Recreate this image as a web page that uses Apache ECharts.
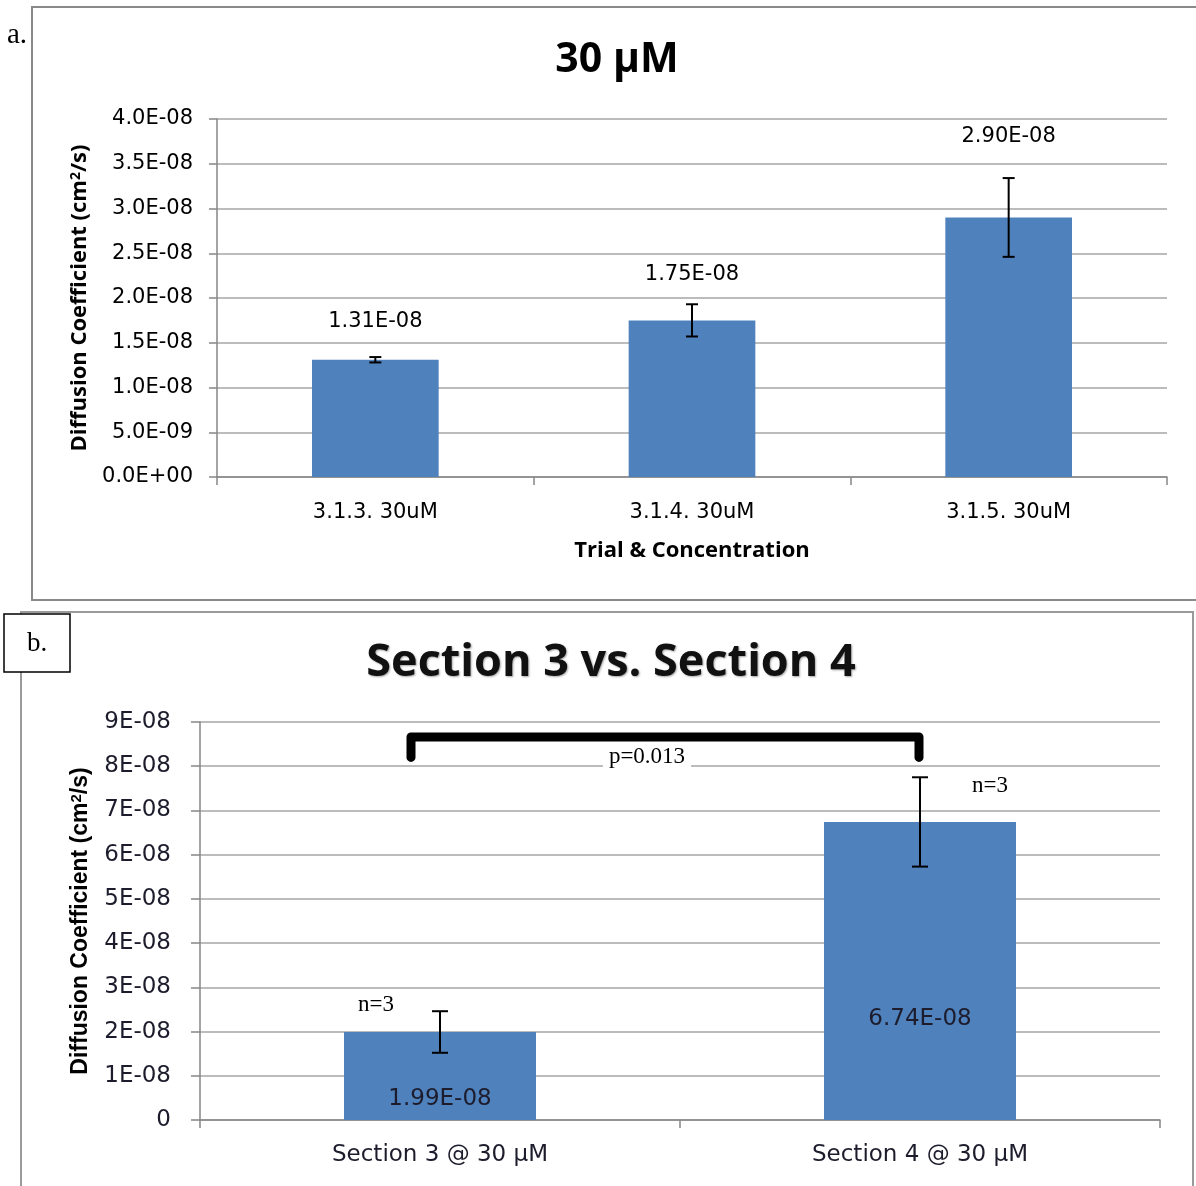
<!DOCTYPE html>
<html>
<head>
<meta charset="utf-8">
<script src="https://cdn.jsdelivr.net/npm/echarts@6/dist/echarts.min.js"></script>
<style>
  html, body { margin: 0; padding: 0; background: #fff; }
  #chart { width: 1196px; height: 1186px; }
</style>
</head>
<body>
<div id="chart"></div>
<script>
// Panel a: diffusion coefficient per trial at 30 µM
const trialCategories = ['3.1.3. 30uM', '3.1.4. 30uM', '3.1.5. 30uM'];
const trialMeans = [1.31e-8, 1.75e-8, 2.90e-8];
const trialErrors = [0.03e-8, 0.18e-8, 0.44e-8];
const trialAxisMax = 4e-8;
const trialAxisStep = 0.5e-8;

// Panel b: section comparison at 30 µM
const sectionCategories = ['Section 3 @ 30 µM', 'Section 4 @ 30 µM'];
const sectionMeans = [1.99e-8, 6.74e-8];
const sectionErrors = [0.47e-8, 1.01e-8];
const sectionCounts = [3, 3];
const sectionAxisMax = 9e-8;
const sectionAxisStep = 1e-8;
const pValueText = 'p=0.013';

const BAR = '#4f81bd';
const GRID_LINE = '#a6a6a6';
const AXIS_LINE = '#868686';

// Excel-style scientific notation: 1.31E-08, 0.0E+00
function sci(v, digits) {
  if (Math.abs(v) < 1e-20) return (0).toFixed(digits) + 'E+00';
  const s = v.toExponential(digits).toUpperCase();
  return s.replace(/E([+-])(\d+)$/, (m, sign, exp) => 'E' + sign + exp.padStart(2, '0'));
}

// I-beam error bar: value = [categoryIndex, low, high]
function errorBar(cap, width) {
  return function (params, api) {
    const x = api.value(0);
    const lo = api.coord([x, api.value(1)]);
    const hi = api.coord([x, api.value(2)]);
    const st = { stroke: '#000', lineWidth: width };
    return {
      type: 'group',
      children: [
        { type: 'line', shape: { x1: hi[0], y1: hi[1], x2: lo[0], y2: lo[1] }, style: st },
        { type: 'line', shape: { x1: hi[0] - cap, y1: hi[1], x2: hi[0] + cap, y2: hi[1] }, style: st },
        { type: 'line', shape: { x1: lo[0] - cap, y1: lo[1], x2: lo[0] + cap, y2: lo[1] }, style: st }
      ]
    };
  };
}

const chart = echarts.init(document.getElementById('chart'), null, { renderer: 'canvas' });

function supRich(size) {
  return { sup: { fontSize: size, verticalAlign: 'top', lineHeight: size, fontWeight: 'bold' } };
}

const option = {
  animation: false,
  backgroundColor: '#fff',
  title: [
    {
      text: '30 µM', left: 612, top: 35, textAlign: 'center',
      textStyle: { fontFamily: 'Open Sans', fontSize: 41, fontWeight: 'bold', color: '#000' }
    },
    {
      text: 'Section 3 vs. Section 4', left: 606, top: 636, textAlign: 'center',
      textStyle: {
        fontFamily: 'Open Sans', fontSize: 45, fontWeight: 'bold', color: '#111',
        textShadowColor: 'rgba(0,0,0,0.35)', textShadowBlur: 2, textShadowOffsetX: 1, textShadowOffsetY: 1
      }
    }
  ],
  grid: [
    { left: 217, top: 119, width: 950, height: 358 },
    { left: 200, top: 722, width: 960, height: 398 }
  ],
  xAxis: [
    {
      gridIndex: 0, type: 'category', data: trialCategories,
      axisLine: { lineStyle: { color: AXIS_LINE, width: 1.5 } },
      axisTick: { show: true, length: 8, lineStyle: { color: AXIS_LINE, width: 1.5 } },
      axisLabel: { margin: 25, fontFamily: 'DejaVu Sans', fontSize: 21, color: '#000' },
      name: 'Trial & Concentration', nameLocation: 'middle', nameGap: 63,
      nameTextStyle: { fontFamily: 'Open Sans', fontSize: 22, fontWeight: 'bold', color: '#000' }
    },
    {
      gridIndex: 1, type: 'category', data: sectionCategories,
      axisLine: { lineStyle: { color: AXIS_LINE, width: 1.5 } },
      axisTick: { show: true, length: 8, lineStyle: { color: AXIS_LINE, width: 1.5 } },
      axisLabel: { margin: 24, fontFamily: 'DejaVu Sans', fontSize: 23, color: '#1c1c2c' }
    }
  ],
  yAxis: [
    {
      gridIndex: 0, type: 'value', min: 0, max: trialAxisMax, interval: trialAxisStep,
      axisLine: { show: true, lineStyle: { color: AXIS_LINE, width: 1.5 } },
      axisTick: { show: true, length: 8, lineStyle: { color: AXIS_LINE, width: 1.5 } },
      splitLine: { lineStyle: { color: GRID_LINE, width: 1.5 } },
      axisLabel: {
        margin: 24, fontFamily: 'DejaVu Sans', fontSize: 21, color: '#000',
        formatter: v => sci(v, 1)
      },
      name: 'Diffusion Coefficient (cm{sup|2}/s)', nameLocation: 'middle', nameGap: 124,
      nameTextStyle: { fontFamily: 'Open Sans', fontSize: 22, fontWeight: 'bold', color: '#000', rich: supRich(14) }
    },
    {
      gridIndex: 1, type: 'value', min: 0, max: sectionAxisMax, interval: sectionAxisStep,
      axisLine: { show: true, lineStyle: { color: AXIS_LINE, width: 1.5 } },
      axisTick: { show: true, length: 9, lineStyle: { color: AXIS_LINE, width: 1.5 } },
      splitLine: { lineStyle: { color: GRID_LINE, width: 1.5 } },
      axisLabel: {
        margin: 29, fontFamily: 'DejaVu Sans', fontSize: 23, color: '#1c1c2c',
        formatter: v => (Math.abs(v) < 1e-20 ? '0' : sci(v, 0))
      },
      name: 'Diffusion Coefficient (cm{sup|2}/s)', nameLocation: 'middle', nameGap: 108,
      nameTextStyle: { fontFamily: 'Liberation Sans', fontSize: 23, fontWeight: 'bold', color: '#000', rich: supRich(15) }
    }
  ],
  series: [
    {
      type: 'bar', xAxisIndex: 0, yAxisIndex: 0, barWidth: '40%',
      itemStyle: { color: BAR },
      data: trialMeans.map((v, i) => ({ value: v, label: { distance: [28, 35, 70][i] } })),
      label: {
        show: true, position: 'top', fontFamily: 'DejaVu Sans', fontSize: 21, color: '#000',
        formatter: p => sci(p.value, 2)
      }
    },
    {
      type: 'custom', xAxisIndex: 0, yAxisIndex: 0, z: 5,
      renderItem: errorBar(6, 2),
      data: trialMeans.map((v, i) => [i, v - trialErrors[i], v + trialErrors[i]])
    },
    {
      type: 'bar', xAxisIndex: 1, yAxisIndex: 1, barWidth: '40%',
      itemStyle: { color: BAR },
      data: sectionMeans.map((v, i) => ({ value: v, label: { distance: [9, 89][i] } })),
      label: {
        show: true, position: 'insideBottom', fontFamily: 'DejaVu Sans', fontSize: 23, color: '#1c1c2c',
        formatter: p => sci(p.value, 2)
      }
    },
    {
      type: 'custom', xAxisIndex: 1, yAxisIndex: 1, z: 5,
      renderItem: errorBar(8, 2),
      data: sectionMeans.map((v, i) => [i, v - sectionErrors[i], v + sectionErrors[i]])
    },
    {
      // sample counts beside each error bar
      type: 'custom', xAxisIndex: 1, yAxisIndex: 1, z: 6,
      renderItem: function (params, api) {
        const i = api.value(0);
        const top = api.coord([i, api.value(1)]);
        const off = [[-64, -6], [70, 9]][i];
        return {
          type: 'text',
          style: {
            text: 'n=' + api.value(2), x: top[0] + off[0], y: top[1] + off[1],
            align: 'center', verticalAlign: 'middle',
            font: '23px "Liberation Serif"', fill: '#000'
          }
        };
      },
      data: sectionMeans.map((v, i) => [i, v + sectionErrors[i], sectionCounts[i]])
    },
    {
      // significance bracket between the two sections
      type: 'custom', xAxisIndex: 1, yAxisIndex: 1, z: 6,
      renderItem: function (params, api) {
        const a = api.coord([0, api.value(0)]);
        const b = api.coord([1, api.value(0)]);
        const foot = api.coord([0, api.value(1)])[1];
        const xl = a[0] - 29, xr = b[0] - 1, yt = a[1];
        return {
          type: 'group',
          children: [
            {
              type: 'polyline',
              shape: { points: [[xl, foot], [xl, yt], [xr, yt], [xr, foot]] },
              style: { stroke: '#000', lineWidth: 9, lineJoin: 'round', lineCap: 'round', fill: null }
            },
            {
              type: 'text',
              style: {
                text: pValueText, x: (a[0] + b[0]) / 2 - 33, y: api.coord([0, api.value(2)])[1],
                align: 'center', verticalAlign: 'middle',
                font: '23px "Liberation Serif"', fill: '#000',
                backgroundColor: '#fff', padding: [0, 6, 6, 6]
              }
            }
          ]
        };
      },
      data: [[8.66e-8, 8.2e-8, 8.2e-8]]
    }
  ],
  graphic: [
    // panel frames
    { type: 'rect', shape: { x: 32, y: 7, width: 1170, height: 593 }, style: { fill: null, stroke: '#8a8a8a', lineWidth: 2 }, z: 100 },
    { type: 'rect', shape: { x: 21, y: 612, width: 1172, height: 600 }, style: { fill: null, stroke: '#9a9a9a', lineWidth: 2 }, z: 100 },
    { type: 'text', style: { text: 'a.', x: 7, y: 35, font: '29px "Liberation Serif"', fill: '#000', verticalAlign: 'middle' }, z: 101 },
    { type: 'rect', shape: { x: 4, y: 614, width: 66, height: 58 }, style: { fill: '#fff', stroke: '#000', lineWidth: 1.5 }, z: 101 },
    { type: 'text', style: { text: 'b.', x: 37, y: 644, font: '27px "Liberation Serif"', fill: '#000', align: 'center', verticalAlign: 'middle' }, z: 102 }
  ]
};

chart.setOption(option);
</script>
</body>
</html>
